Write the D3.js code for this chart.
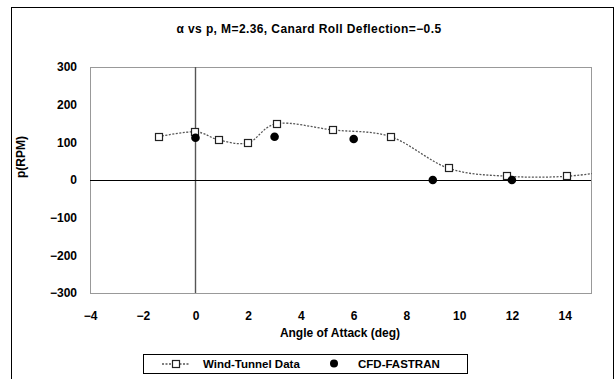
<!DOCTYPE html>
<html>
<head>
<meta charset="utf-8">
<script src="https://cdn.jsdelivr.net/npm/d3@7"></script>
<style>
body { margin: 0; background: #fff; }
text { font-family: "Liberation Sans", Arial, sans-serif; font-weight: bold; fill: #000; }
</style>
</head>
<body>
<div id="chart"></div>
<script>
// Wind tunnel series (last point lies beyond the axis, clipped like the original)
var windAlpha = [-1.4, 0, 0.9, 2, 3.1, 5.2, 7.4, 9.6, 11.8, 14.1, 16.3];
var windP     = [115, 128, 106, 99, 150, 133, 115, 31, 10, 10, 30];
// CFD series
var cfdAlpha = [0, 3, 6, 9, 12];
var cfdP     = [112, 115, 109, 0, 0];
var xTicks = [-4, -2, 0, 2, 4, 6, 8, 10, 12, 14];
var yTicks = [-300, -200, -100, 0, 100, 200, 300];

var larg = 616, haut = 379;
var pLeft = 90, pRight = 591, pTop = 67, pBottom = 293;

var svg = d3.select("#chart").append("svg")
    .attr("width", larg)
    .attr("height", haut);

// outer frame
svg.append("rect")
    .attr("x", 11.5).attr("y", 7.5)
    .attr("width", 602).attr("height", 380)
    .attr("fill", "none").attr("stroke", "#000");

var x = d3.scaleLinear().domain([-4, 15]).range([pLeft, pRight]);
var y = d3.scaleLinear().domain([-300, 300]).range([pBottom, pTop]);

// plot area
svg.append("rect")
    .attr("x", pLeft + 0.5).attr("y", pTop + 0.5)
    .attr("width", pRight - pLeft).attr("height", pBottom - pTop)
    .attr("fill", "#fff").attr("stroke", "#999");

svg.append("clipPath").attr("id", "clip")
    .append("rect")
    .attr("x", pLeft).attr("y", pTop)
    .attr("width", pRight - pLeft + 1).attr("height", pBottom - pTop);

// axes through zero
svg.append("line")
    .attr("x1", Math.round(x(0)) + 0.5).attr("x2", Math.round(x(0)) + 0.5)
    .attr("y1", pTop).attr("y2", pBottom)
    .attr("stroke", "#555").attr("stroke-width", 1.4);
svg.append("line")
    .attr("x1", pLeft).attr("x2", pRight)
    .attr("y1", Math.round(y(0)) + 0.5).attr("y2", Math.round(y(0)) + 0.5)
    .attr("stroke", "#000");

// tick labels
var ax = svg.append("g")
    .attr("transform", "translate(0," + (pBottom + 10) + ")")
    .call(d3.axisBottom(x).tickValues(xTicks).tickSize(0).tickPadding(8)
        .tickFormat(function(d){ return d < 0 ? "\u2212" + (-d) : d; }));
ax.select(".domain").remove();
ax.selectAll("text").attr("font-size", "12px").attr("font-family", null);

var ay = svg.append("g")
    .attr("transform", "translate(" + (pLeft - 13) + ",0)")
    .call(d3.axisLeft(y).tickValues(yTicks).tickSize(0).tickPadding(0)
        .tickFormat(function(d){ return d < 0 ? "\u2212" + (-d) : d; }));
ay.select(".domain").remove();
ay.selectAll("text").attr("font-size", "12px").attr("font-family", null);

// wind tunnel line
var wind = windAlpha.map(function(a, i){ return [a, windP[i]]; });
var line = d3.line()
    .x(function(d){ return x(d[0]); })
    .y(function(d){ return y(d[1]); })
    .curve(d3.curveCatmullRom.alpha(0));

svg.append("path")
    .datum(wind)
    .attr("clip-path", "url(#clip)")
    .attr("d", line)
    .attr("fill", "none")
    .attr("stroke", "#555")
    .attr("stroke-width", 1.3)
    .attr("stroke-dasharray", "2,1.5");

svg.append("g").attr("clip-path", "url(#clip)")
    .selectAll("rect")
    .data(wind)
    .enter()
    .append("rect")
    .attr("x", function(d){ return Math.round(x(d[0])) - 3.5; })
    .attr("y", function(d){ return Math.round(y(d[1])) - 3.5; })
    .attr("width", 7).attr("height", 7)
    .attr("fill", "#fff").attr("stroke", "#222").attr("stroke-width", 1.2);

// CFD dots
svg.append("g").selectAll("circle")
    .data(cfdAlpha)
    .enter()
    .append("circle")
    .attr("cx", function(d){ return x(d); })
    .attr("cy", function(d, i){ return y(cfdP[i]); })
    .attr("r", 4.3)
    .attr("fill", "#000");

// titles
svg.append("text")
    .attr("x", 309).attr("y", 33)
    .attr("text-anchor", "middle")
    .attr("font-size", "12px")
    .attr("letter-spacing", "0.4px")
    .text("\u03b1 vs p, M=2.36,  Canard Roll Deflection=\u22120.5");

svg.append("text")
    .attr("x", 340).attr("y", 337)
    .attr("text-anchor", "middle")
    .attr("font-size", "12px")
    .text("Angle of Attack (deg)");

svg.append("text")
    .attr("transform", "translate(25,157) rotate(-90)")
    .attr("text-anchor", "middle")
    .attr("font-size", "12px")
    .text("p(RPM)");

// legend
var lg = svg.append("g");
lg.append("rect")
    .attr("x", 143.5).attr("y", 354.5)
    .attr("width", 324).attr("height", 19)
    .attr("fill", "#fff").attr("stroke", "#000");
lg.append("line")
    .attr("x1", 162).attr("x2", 190)
    .attr("y1", 364).attr("y2", 364)
    .attr("stroke", "#555").attr("stroke-width", 1.3)
    .attr("stroke-dasharray", "2,1.5");
lg.append("rect")
    .attr("x", 172.5).attr("y", 360.5)
    .attr("width", 7).attr("height", 7)
    .attr("fill", "#fff").attr("stroke", "#222").attr("stroke-width", 1.2);
lg.append("text")
    .attr("x", 203).attr("y", 368)
    .attr("font-size", "11.5px")
    .text("Wind-Tunnel Data");
lg.append("circle")
    .attr("cx", 334).attr("cy", 363.5).attr("r", 4)
    .attr("fill", "#000");
lg.append("text")
    .attr("x", 358).attr("y", 368)
    .attr("font-size", "11.5px")
    .text("CFD-FASTRAN");
</script>
</body>
</html>
